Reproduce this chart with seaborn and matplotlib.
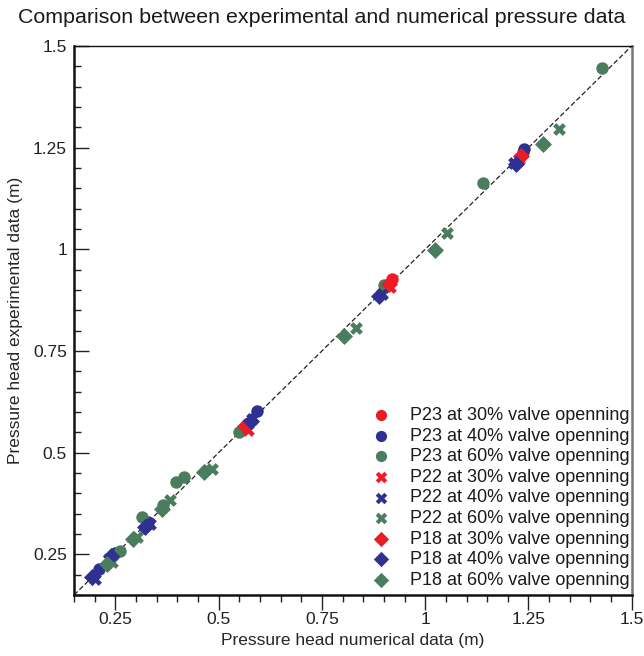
import numpy as np
import pandas as pd
import seaborn as sns
import matplotlib.pyplot as plt
from matplotlib.ticker import MultipleLocator, FuncFormatter

# values (numerical, experimental)
p23_30_num = [0.568, 0.920, 1.237]
p23_30_exp = [0.570, 0.927, 1.240]
p22_30_num = [0.570, 0.915, 1.227]
p22_30_exp = [0.556, 0.908, 1.222]
p18_30_num = [0.563, 0.912, 1.232]
p18_30_exp = [0.565, 0.915, 1.230]

p23_40_num = [0.211, 0.249, 0.330, 0.593, 0.907, 1.240]
p23_40_exp = [0.214, 0.254, 0.330, 0.602, 0.912, 1.247]
p22_40_num = [0.201, 0.235, 0.334, 0.580, 0.895, 1.215]
p22_40_exp = [0.190, 0.239, 0.324, 0.582, 0.890, 1.213]
p18_40_num = [0.193, 0.240, 0.322, 0.578, 0.889, 1.220]
p18_40_exp = [0.195, 0.245, 0.318, 0.578, 0.886, 1.210]

p23_60_num = [0.261, 0.315, 0.366, 0.397, 0.416, 0.549, 0.901, 1.139, 1.428]
p23_60_exp = [0.259, 0.341, 0.371, 0.427, 0.441, 0.550, 0.912, 1.162, 1.446]
p22_60_num = [0.241, 0.303, 0.382, 0.483, 0.832, 1.053, 1.325]
p22_60_exp = [0.232, 0.293, 0.384, 0.460, 0.806, 1.039, 1.295]
p18_60_num = [0.229, 0.293, 0.362, 0.465, 0.803, 1.023, 1.284]
p18_60_exp = [0.226, 0.288, 0.362, 0.452, 0.787, 0.998, 1.258]

series = [
    ("P23 at 30% valve openning", p23_30_num, p23_30_exp),
    ("P23 at 40% valve openning", p23_40_num, p23_40_exp),
    ("P23 at 60% valve openning", p23_60_num, p23_60_exp),
    ("P22 at 30% valve openning", p22_30_num, p22_30_exp),
    ("P22 at 40% valve openning", p22_40_num, p22_40_exp),
    ("P22 at 60% valve openning", p22_60_num, p22_60_exp),
    ("P18 at 30% valve openning", p18_30_num, p18_30_exp),
    ("P18 at 40% valve openning", p18_40_num, p18_40_exp),
    ("P18 at 60% valve openning", p18_60_num, p18_60_exp),
]

red, blue, green = "#ed1c24", "#2e3192", "#4a7c5e"
colors = [red, blue, green] * 3
shapes = ["o"] * 3 + ["X"] * 3 + ["D"] * 3
sizes = [80] * 3 + [85] * 3 + [75] * 3

rows = []
for name, xs, ys in series:
    for a, b in zip(xs, ys):
        rows.append({"num": a, "exp": b, "series": name})
df = pd.DataFrame(rows)
order = [s[0] for s in series]

sns.set_style("white")
plt.rcParams['font.family'] = ['Liberation Sans', 'DejaVu Sans']
plt.rcParams['text.color'] = '#1a1a1a'

fig = plt.figure(figsize=(6.44, 6.56), dpi=100)
ax = fig.add_axes([0.115, 0.093, 0.866, 0.837])

# 1:1 reference line
ax.plot([0.15, 1.5], [0.15, 1.5], color='#222222', lw=0.9, dashes=(4, 2), zorder=1)

for name, c, m, s in zip(order, colors, shapes, sizes):
    sub = df[df["series"] == name]
    sns.scatterplot(data=sub, x="num", y="exp", color=c, marker=m, s=s,
                    linewidth=0, ax=ax, label=name, zorder=3)

ax.set_xlim(0.15, 1.5)
ax.set_ylim(0.15, 1.5)

fmt = FuncFormatter(lambda v, p: ('%g' % round(v, 2)))
for axis in (ax.xaxis, ax.yaxis):
    axis.set_major_locator(MultipleLocator(0.25))
    axis.set_minor_locator(MultipleLocator(0.05))
    axis.set_major_formatter(fmt)

ax.tick_params(axis='x', which='both', direction='out', bottom=True, colors='#222222',
               labelsize=12.5, pad=2)
ax.tick_params(axis='y', which='both', direction='in', left=True, colors='#222222',
               labelsize=12.5, pad=5)
ax.tick_params(which='major', length=10.5, width=1.0)
ax.tick_params(which='minor', length=5, width=1.0)

for side in ['left', 'bottom']:
    ax.spines[side].set_linewidth(1.8)
    ax.spines[side].set_color('#111111')
ax.spines['top'].set_linewidth(1.0)
ax.spines['top'].set_color('#111111')
ax.spines['right'].set_linewidth(1.8)
ax.spines['right'].set_color('#777777')

ax.set_xlabel("Pressure head numerical data (m)", fontsize=12.5, labelpad=4)
ax.set_ylabel("Pressure head experimental data (m)", fontsize=12.5, labelpad=7)
fig.text(0.5, 0.988, "Comparison between experimental and numerical pressure data",
         ha='center', va='top', fontsize=15.4)

handles, labels = ax.get_legend_handles_labels()
ax.legend(handles, labels, loc='lower right', bbox_to_anchor=(1.0, 0.008),
          frameon=False, fontsize=13, labelspacing=0.2, handlelength=1.0,
          handletextpad=1.15, borderaxespad=0.0, borderpad=0.1, markerscale=0.9)

fig.savefig("out.png", dpi=100)
